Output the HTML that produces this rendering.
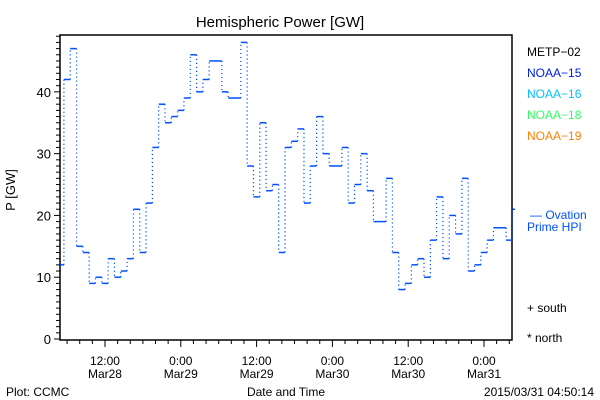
<!DOCTYPE html>
<html><head><meta charset="utf-8">
<style>
html,body{margin:0;padding:0;background:#fff;}
svg{display:block;font-family:"Liberation Sans","DejaVu Sans",sans-serif;}
</style></head>
<body>
<svg id="chart" width="600" height="400" viewBox="0 0 600 400">
  <rect x="0" y="0" width="600" height="400" fill="#fff"/>
  <text x="280" y="27" font-size="15" text-anchor="middle" fill="#000">Hemispheric Power [GW]</text>
  <g id="axes"></g>
  <g id="series"></g>
  <text x="15" y="190" font-size="13" text-anchor="middle" transform="rotate(-90 15 190)">P [GW]</text>
  <text x="286" y="396" font-size="12" text-anchor="middle">Date and Time</text>
  <text x="6" y="396" font-size="12">Plot: CCMC</text>
  <text x="594" y="396" font-size="12" text-anchor="end">2015/03/31 04:50:14</text>
  <g font-size="12">
    <text x="527" y="56" fill="#000">METP−02</text>
    <text x="527" y="77" fill="#0020e0">NOAA−15</text>
    <text x="527" y="98" fill="#00c0ff">NOAA−16</text>
    <text x="527" y="119" fill="#30ff60">NOAA−18</text>
    <text x="527" y="140" fill="#ff8000">NOAA−19</text>
    <text x="530" y="219" fill="#0050ff">— Ovation</text>
    <text x="527" y="231" fill="#0050ff">Prime HPI</text>
    <text x="527" y="312" fill="#000">+ south</text>
    <text x="527" y="342" fill="#000">* north</text>
  </g>
</svg>
<script>
const values = [12,42,47,15,14,9,10,9,13,10,11,13,21,14,22,31,38,35,36,37,39,
46,40,42,45,45,40,39,39,48,28,23,35,24,25,14,31,32,34,22,28,36,30,28,28,31,22,25,30,24,19,
19,26,14,8,9,12,13,10,16,23,13,20,17,26,11,12,14,16,18,18,16,21];
const startHour = 4.5;          // hours after Mar28 00:00 for first sample
const stepHours = 1;
const yTicks = [0,10,20,30,40];
const xTickHours = [12,24,36,48,60,72];
const xTickLabels = [["12:00","Mar28"],["0:00","Mar29"],["12:00","Mar29"],["0:00","Mar30"],["12:00","Mar30"],["0:00","Mar31"]];

const X0=60,X1=512,Y0=35,Y1=340;
const hMin=4.88,hMax=76.43,vMin=0,vMax=49.2;
const xs=h=>X0+(h-hMin)/(hMax-hMin)*(X1-X0);
const ys=v=>Y1-1-(v-vMin)/(vMax-vMin)*(Y1-1-Y0);
const NS="http://www.w3.org/2000/svg";
const axes=document.getElementById('axes');
const series=document.getElementById('series');
function mk(tag,attrs,parent){const e=document.createElementNS(NS,tag);for(const k in attrs)e.setAttribute(k,attrs[k]);parent.appendChild(e);return e;}

const frame=mk('rect',{x:X0,y:Y0,width:X1-X0,height:Y1-Y0,fill:'none',stroke:'#000','stroke-width':1.5},axes);


for(let v=0;v<=49;v++){
  const l=mk('line',{x1:X0-(v%10===0?6:4),x2:X0,y1:ys(v),y2:ys(v),stroke:'#000'},axes);
  
  
}
yTicks.forEach(v=>{
  const t=mk('text',{x:X0-9,y:ys(v)+5,'font-size':13,'text-anchor':'end'},axes);
  t.textContent=String(v);
  
  
});
for(let h=6;h<=hMax;h+=2){
  const major=h%12===0;
  const l=mk('line',{x1:xs(h),x2:xs(h),y1:Y1,y2:Y1+(major?7:4),stroke:'#000'},axes);
  
  
}
xTickHours.forEach((h,i)=>{
  const t1=mk('text',{x:xs(h),y:365,'font-size':12,'text-anchor':'middle'},axes);
  t1.textContent=xTickLabels[i][0];
  
  
  const t2=mk('text',{x:xs(h),y:378,'font-size':12,'text-anchor':'middle'},axes);
  t2.textContent=xTickLabels[i][1];
  
  
});
const col='#0050ff';
values.forEach((v,i)=>{
  let a=startHour+i*stepHours,b=a+stepHours;
  a=Math.max(a,hMin);
  const xa=xs(a), xb=i===values.length-1?515:Math.min(xs(b),X1);
  const seg=mk('line',{x1:xa,x2:xb,y1:ys(v),y2:ys(v),stroke:col,'stroke-width':1.5},series);
  
  
  if(i>0){
    const c=mk('line',{x1:xa,x2:xa,y1:ys(values[i-1]),y2:ys(v),stroke:col,'stroke-width':1.2,'stroke-dasharray':'1.2 2.8'},series);
    
    
  }
});
</script>
</body></html>
